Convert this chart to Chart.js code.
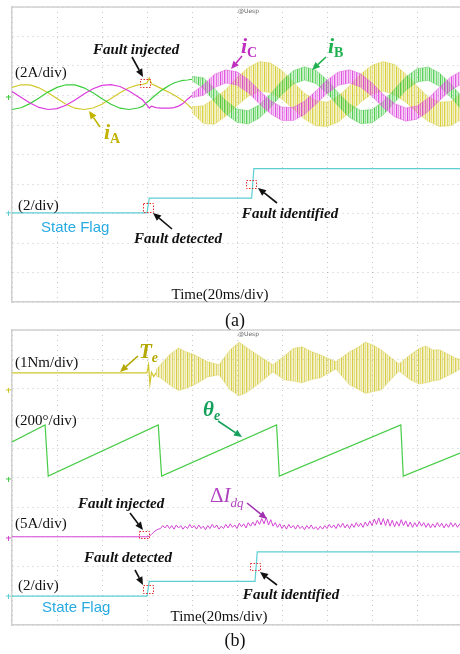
<!DOCTYPE html>
<html>
<head>
<meta charset="utf-8">
<script src="https://cdn.jsdelivr.net/npm/chart.js@4.4.1/dist/chart.umd.min.js"></script>
<style>
  html, body { margin: 0; padding: 0; background: #fff; }
  #page { position: relative; width: 460px; height: 654px; overflow: hidden; }
  #page canvas { position: absolute; left: 0; }
  .caption { position: absolute; left: 0; width: 470px; text-align: center; font: 18px "Liberation Serif", serif; line-height: 20px; color: #111; }
</style>
</head>
<body>
<div id="page">
  <canvas id="scopeA" width="472" height="310" style="top:0px"></canvas>
  <canvas id="scopeB" width="472" height="310" style="top:322px"></canvas>
  <div class="caption" style="top:310px">(a)</div>
  <div class="caption" style="top:630px">(b)</div>
</div>
<script>
// ---------- Panel (a): phase currents (A) and state flag ----------
const preTime = [0, 4, 8, 12, 16, 20, 24, 28, 32, 36, 40, 44, 48, 52, 56];
const transTime = [58, 60, 61, 62, 64, 66, 68, 70, 72, 74, 76, 78, 80];
const bandTime = [80, 85, 90, 95, 100, 105, 110, 115, 120, 125, 130, 135, 140, 145, 150, 155, 160, 165, 170, 175, 180, 185, 190, 195, 200];

const iaPre = [0.65, 0.83, 0.82, 0.62, 0.29, -0.11, -0.49, -0.76, -0.85, -0.75, -0.49, -0.11, 0.29, 0.63, 0.82];
const ibPre = [-0.85, -0.73, -0.45, -0.07, 0.33, 0.65, 0.83, 0.82, 0.62, 0.29, -0.12, -0.49, -0.76, -0.85, -0.75];
const icPre = [0.37, -0.02, -0.41, -0.71, -0.85, -0.79, -0.56, -0.20, 0.20, 0.56, 0.79, 0.84, 0.71, 0.41, 0.02];

const iaTrans = [0.85, 0.95, 1.28, 0.90, 0.75, 0.60, 0.45, 0.30, 0.14, -0.05, -0.25, -0.50, -0.80];
const ibTrans = [-0.64, -0.35, -0.25, -0.10, 0.15, 0.40, 0.60, 0.80, 0.95, 1.05, 1.12, 1.15, 1.20];
const icTrans = [-0.19, -0.55, -0.75, -0.62, -0.72, -0.75, -0.75, -0.75, -0.72, -0.62, -0.45, -0.15, 0.10];

// ripple envelopes after the fault (upper / lower edge of each band)
const iaUpper = [-0.65, -0.60, -0.10, 0.50, 1.30, 2.00, 2.40, 2.30, 1.80, 1.00, 0.25, -0.25, -0.35, 0.05, 0.75, 1.55, 2.15, 2.40, 2.20, 1.55, 0.75, 0.00, -0.35, -0.30, 0.25];
const iaLower = [-1.05, -1.80, -1.85, -1.30, -0.60, 0.05, 0.40, 0.30, -0.15, -0.80, -1.50, -1.95, -2.00, -1.70, -1.05, -0.35, 0.20, 0.40, 0.15, -0.35, -1.05, -1.65, -2.00, -1.95, -1.50];
const ibUpper = [1.40, 1.31, 0.58, -0.25, -0.82, -0.93, -0.53, 0.22, 1.09, 1.78, 2.05, 1.82, 1.16, 0.29, -0.49, -0.91, -0.85, -0.31, 0.52, 1.35, 1.92, 2.03, 1.63, 0.88, 0.01];
const ibLower = [1.10, 0.61, -0.32, -1.15, -1.72, -1.83, -1.43, -0.68, 0.19, 0.88, 1.15, 0.92, 0.26, -0.61, -1.39, -1.81, -1.75, -1.21, -0.38, 0.45, 1.02, 1.13, 0.73, -0.02, -0.89];
const icUpper = [0.25, 0.81, 1.54, 1.84, 1.71, 1.18, 0.44, -0.26, -0.69, -0.70, -0.29, 0.40, 1.14, 1.69, 1.85, 1.57, 0.95, 0.19, -0.44, -0.74, -0.61, -0.08, 0.66, 1.36, 1.79];
const icLower = [-0.05, 0.11, 0.64, 0.94, 0.81, 0.28, -0.46, -1.16, -1.59, -1.60, -1.19, -0.50, 0.24, 0.79, 0.95, 0.67, 0.05, -0.71, -1.34, -1.64, -1.51, -0.98, -0.24, 0.46, 0.89];

const flagTimeA = [0, 60, 61, 106.5, 107.5, 200];
const flagA = [0, 0, 1, 1, 3, 3];

// ---------- Panel (b): torque, angle, dq current error, state flag ----------
const teTime = [0, 60, 60.7, 61.3, 62, 63, 64];
const teLine = [0.58, 0.58, 0.85, 0.20, 0.60, 0.45, 0.58];
const teBandTime = [64, 66, 70, 74, 77, 81, 87, 92, 97, 101, 104, 109, 116, 121, 125, 129, 133, 137, 144, 150, 154, 157, 161, 164, 172, 177, 181, 184, 187, 190, 197, 200];
const teUpper = [0.68, 0.85, 1.19, 1.42, 1.30, 1.19, 0.95, 0.85, 1.36, 1.62, 1.45, 1.19, 0.85, 1.15, 1.40, 1.46, 1.30, 1.19, 0.95, 1.29, 1.45, 1.62, 1.50, 1.36, 0.88, 1.19, 1.40, 1.49, 1.35, 1.36, 1.08, 1.02];
const teLower = [0.47, 0.41, 0.17, -0.02, 0.05, 0.17, 0.44, 0.51, 0.00, -0.20, -0.10, 0.17, 0.61, 0.34, 0.30, 0.24, 0.35, 0.41, 0.71, 0.17, 0.02, -0.12, -0.05, 0.00, 0.64, 0.34, 0.20, 0.24, 0.30, 0.34, 0.61, 0.75];

const thetaTime = [0, 14.7, 16.1, 65.0, 66.5, 117.6, 118.8, 172.8, 173.9, 200];
const thetaDeg = [251, 366, 20, 366, 20, 366, 20, 366, 20, 180];

const idqTime = [0, 60, 61, 62, 63, 64, 65];
const idqLine = [0.2, 0.2, 0.3, 0.6, 1.0, 1.3, 1.5];
// ripple after the fault, one sample per ms from 66 ms to 200 ms
const idqRipple = [
  1.6, 2.1, 1.7, 2.2, 1.6, 2.1, 1.5, 2.2, 1.7, 2.1,
  1.5, 2.0, 1.6, 2.3, 1.7, 2.1, 1.5, 2.2, 1.6, 2.0,
  1.4, 2.1, 1.6, 2.3, 1.7, 2.2, 1.5, 2.0, 1.6, 2.3,
  1.7, 2.4, 1.8, 2.2, 1.6, 2.5, 1.9, 2.4, 1.7, 2.6,
  2.0, 2.7, 2.1, 3.0, 2.3, 3.3, 2.4, 3.5, 2.2, 3.1,
  2.0, 2.6, 1.8, 2.4, 1.6, 2.2, 1.5, 2.3, 1.7, 2.1,
  1.5, 2.2, 1.6, 2.0, 1.4, 2.1, 1.6, 2.2, 1.5, 1.9,
  1.4, 2.0, 1.5, 2.1, 1.6, 2.3, 1.7, 2.2, 1.6, 2.4,
  1.8, 2.5, 1.7, 2.3, 1.6, 2.4, 1.8, 2.6, 1.9, 2.5,
  1.8, 2.7, 2.0, 2.9, 2.1, 3.2, 2.3, 3.4, 2.2, 3.3,
  2.1, 3.2, 2.0, 3.0, 1.9, 2.8, 2.0, 3.1, 2.1, 2.9,
  1.9, 2.7, 1.8, 2.6, 1.9, 2.8, 2.0, 2.6, 1.8, 2.5,
  1.7, 2.4, 1.8, 2.6, 1.9, 2.5, 1.7, 2.4, 1.8, 2.6,
  1.9, 2.5, 1.8, 2.4, 1.9
];
const idqRippleTime = idqRipple.map((v, i) => 66 + i);

const flagTimeB = [0, 60, 61, 108, 109, 200];
const flagB = [0, 0, 1, 1, 3, 3];

// ---------- scope channel settings (ground level in divisions, units per division) ----------
const CH = {
  current: { level: 6.95, perDiv: 2 },
  flagA:   { level: 3.02, perDiv: 2 },
  te:      { level: 7.97, perDiv: 1 },
  theta:   { level: 4.95, perDiv: 200 },
  idq:     { level: 2.95, perDiv: 5 },
  flagB:   { level: 0.98, perDiv: 2 }
};

const COLORS = {
  ia: '#d3c92c', iaRgb: [212, 202, 40],
  ib: '#3ccd3c', ibRgb: [60, 200, 60],
  ic: '#dd3cdd', icRgb: [220, 60, 220],
  flag: '#5ccfd3',
  te: '#d0c62a', teRgb: [210, 200, 50],
  theta: '#48cc48',
  idq: '#d444d4'
};

// vertical-stroke texture imitating the dense switching ripple of the scope traces
function strokeTexture(canvasId, rgb) {
  const tile = document.createElement('canvas');
  const alphas = [0.9, 0.3, 0.6, 0.2, 0.85, 0.4, 0.25, 0.7, 0.3, 0.5, 0.2];
  tile.width = alphas.length; tile.height = 1;
  const t = tile.getContext('2d');
  alphas.forEach((a, i) => {
    t.fillStyle = `rgba(${rgb[0]}, ${rgb[1]}, ${rgb[2]}, ${a})`;
    t.fillRect(i, 0, 1, 1);
  });
  return document.getElementById(canvasId).getContext('2d').createPattern(tile, 'repeat');
}

function toPoints(times, values, ch) {
  return times.map((t, i) => ({ x: t, y: ch.level + values[i] / ch.perDiv }));
}

function trace(points, color, order, width) {
  return { data: points, borderColor: color, borderWidth: width || 1.2, fill: false, order };
}

function band(upper, lower, rgb, fillStyle, order) {
  const edge = `rgba(${rgb[0]}, ${rgb[1]}, ${rgb[2]}, 0.45)`;
  return [
    { data: upper, borderColor: edge, borderWidth: 0.8, fill: false, order },
    { data: lower, borderColor: edge, borderWidth: 0.8, fill: '-1', backgroundColor: fillStyle, order }
  ];
}

// ---------- decorations: frame, ground markers, labels, arrows, marker boxes ----------
const SERIF = '"Liberation Serif", "Times New Roman", serif';
const SANS = '"Liberation Sans", Arial, sans-serif';

function txt(x, y, s, font, color, align) {
  return { x, y, align: align || 'left', parts: [{ s, font, color: color || '#111' }] };
}

const scopeDecor = {
  id: 'scopeDecor',
  afterDraw(chart, args, opts) {
    const ctx = chart.ctx;
    const area = chart.chartArea;
    const top = opts.top;
    ctx.save();

    ctx.strokeStyle = '#d0d0d0';
    ctx.lineWidth = 1.5;
    ctx.beginPath();
    ctx.moveTo(area.left, area.top);
    ctx.lineTo(area.right, area.top);
    ctx.stroke();

    // ground markers on the left edge
    opts.markers.forEach(m => {
      const y = chart.scales.y.getPixelForValue(m.level);
      ctx.strokeStyle = m.color;
      ctx.lineWidth = 1;
      ctx.beginPath();
      ctx.moveTo(6, y); ctx.lineTo(11, y);
      ctx.moveTo(8.5, y - 2); ctx.lineTo(8.5, y + 3);
      ctx.stroke();
    });

    // trigger header
    ctx.fillStyle = '#666';
    ctx.font = '6px "DejaVu Sans"';
    ctx.textBaseline = 'middle';
    ctx.fillText('@Uesp', opts.header.x, opts.header.y - top);

    // red dashed boxes
    ctx.strokeStyle = '#e23030';
    ctx.lineWidth = 1;
    ctx.setLineDash([1.5, 1.5]);
    opts.boxes.forEach(b => ctx.strokeRect(b[0] + 0.5, b[1] - top + 0.5, b[2], b[3]));
    ctx.setLineDash([]);

    // arrows
    opts.arrows.forEach(a => {
      const [x1, y1, x2, y2] = [a.from[0], a.from[1] - top, a.to[0], a.to[1] - top];
      const ang = Math.atan2(y2 - y1, x2 - x1);
      const hl = 8, hw = 3.5;
      const bx = x2 - hl * Math.cos(ang), by = y2 - hl * Math.sin(ang);
      ctx.strokeStyle = a.color;
      ctx.fillStyle = a.color;
      ctx.lineWidth = 1.6;
      ctx.beginPath(); ctx.moveTo(x1, y1); ctx.lineTo(bx, by); ctx.stroke();
      ctx.beginPath();
      ctx.moveTo(x2, y2);
      ctx.lineTo(bx - hw * Math.sin(ang), by + hw * Math.cos(ang));
      ctx.lineTo(bx + hw * Math.sin(ang), by - hw * Math.cos(ang));
      ctx.closePath();
      ctx.fill();
    });

    // text labels (parts allow subscripts)
    ctx.textBaseline = 'alphabetic';
    opts.texts.forEach(t => {
      let w = 0;
      t.parts.forEach(p => { ctx.font = p.font; w += ctx.measureText(p.s).width; });
      let x = t.align === 'center' ? t.x - w / 2 : t.x;
      t.parts.forEach(p => {
        ctx.font = p.font;
        ctx.fillStyle = p.color || '#111';
        ctx.fillText(p.s, x, t.y - top + (p.dy || 0));
        x += ctx.measureText(p.s).width;
      });
    });
    ctx.restore();
  }
};

function scopeOptions(pad, decor) {
  const axis = (max, step) => ({
    type: 'linear', min: 0, max,
    ticks: { display: false, stepSize: step },
    grid: { color: 'rgba(0, 0, 0, 0.22)', lineWidth: 1, drawTicks: false },
    border: { color: '#d0d0d0', width: 1.5, dash: [1, 4] }
  });
  return {
    responsive: false,
    animation: false,
    events: [],
    layout: { padding: { left: 12, right: 10, top: pad[0], bottom: pad[1] } },
    elements: { point: { radius: 0 }, line: { tension: 0 } },
    plugins: { legend: { display: false }, tooltip: { enabled: false }, scopeDecor: decor },
    scales: { x: axis(200, 20), y: axis(10, 1) }
  };
}

// ---------- Panel (a) ----------
const BOLDIT = 'bold italic 15px ' + SERIF;
const decorA = {
  top: 0,
  header: { x: 238, y: 11 },
  markers: [
    { level: CH.current.level, color: COLORS.ib },
    { level: CH.flagA.level, color: COLORS.flag }
  ],
  boxes: [[140, 79, 10, 8], [143, 203, 10, 9], [246, 180, 10, 8]],
  arrows: [
    { from: [132, 57], to: [143, 77], color: '#111' },
    { from: [100, 127], to: [89, 111], color: '#c2b400' },
    { from: [242, 56], to: [231, 69], color: '#c030c0' },
    { from: [326, 57], to: [312, 70], color: '#20b050' },
    { from: [172, 229], to: [153, 213], color: '#111' },
    { from: [277, 203], to: [258, 188], color: '#111' }
  ],
  texts: [
    txt(15, 77, '(2A/div)', '15px ' + SERIF),
    txt(136, 54, 'Fault injected', BOLDIT, '#111', 'center'),
    { x: 104, y: 139, parts: [
      { s: 'i', font: 'bold italic 22px ' + SERIF, color: '#c2b400' },
      { s: 'A', font: 'bold 14px ' + SERIF, color: '#c2b400', dy: 4 }] },
    { x: 241, y: 53, parts: [
      { s: 'i', font: 'bold italic 22px ' + SERIF, color: '#c030c0' },
      { s: 'C', font: 'bold 14px ' + SERIF, color: '#c030c0', dy: 4 }] },
    { x: 328, y: 53, parts: [
      { s: 'i', font: 'bold italic 22px ' + SERIF, color: '#20b050' },
      { s: 'B', font: 'bold 14px ' + SERIF, color: '#20b050', dy: 4 }] },
    txt(18, 210, '(2/div)', '15px ' + SERIF),
    txt(41, 232, 'State Flag', '15px ' + SANS, '#29abe2'),
    txt(178, 243, 'Fault detected', BOLDIT, '#111', 'center'),
    txt(290, 218, 'Fault identified', BOLDIT, '#111', 'center'),
    txt(220, 299, 'Time(20ms/div)', '15px ' + SERIF, '#111', 'center')
  ]
};

new Chart(document.getElementById('scopeA'), {
  type: 'line',
  data: {
    datasets: [
      trace(toPoints(flagTimeA, flagA, CH.flagA), COLORS.flag, 1),
      trace(toPoints(preTime.concat(transTime), icPre.concat(icTrans), CH.current), COLORS.ic, 2),
      trace(toPoints(preTime.concat(transTime), ibPre.concat(ibTrans), CH.current), COLORS.ib, 3),
      trace(toPoints(preTime.concat(transTime), iaPre.concat(iaTrans), CH.current), COLORS.ia, 4),
      ...band(toPoints(bandTime, icUpper, CH.current), toPoints(bandTime, icLower, CH.current), COLORS.icRgb, strokeTexture('scopeA', COLORS.icRgb), 5),
      ...band(toPoints(bandTime, ibUpper, CH.current), toPoints(bandTime, ibLower, CH.current), COLORS.ibRgb, strokeTexture('scopeA', COLORS.ibRgb), 6),
      ...band(toPoints(bandTime, iaUpper, CH.current), toPoints(bandTime, iaLower, CH.current), COLORS.iaRgb, strokeTexture('scopeA', COLORS.iaRgb), 7)
    ]
  },
  options: scopeOptions([7, 8], decorA),
  plugins: [scopeDecor]
});

// ---------- Panel (b) ----------
const decorB = {
  top: 322,
  header: { x: 238, y: 334 },
  markers: [
    { level: CH.te.level, color: COLORS.te },
    { level: CH.theta.level, color: COLORS.theta },
    { level: CH.idq.level, color: COLORS.idq },
    { level: CH.flagB.level, color: COLORS.flag }
  ],
  boxes: [[139, 531, 10, 7], [143, 585, 10, 8], [250, 563, 10, 7]],
  arrows: [
    { from: [138, 356], to: [120, 372], color: '#b5a800' },
    { from: [218, 421], to: [242, 437], color: '#12a05a' },
    { from: [130, 513], to: [143, 530], color: '#111' },
    { from: [247, 503], to: [267, 519], color: '#a030b0' },
    { from: [135, 570], to: [143, 585], color: '#111' },
    { from: [277, 585], to: [260, 572], color: '#111' }
  ],
  texts: [
    txt(15, 367, '(1Nm/div)', '15px ' + SERIF),
    { x: 139, y: 358, parts: [
      { s: 'T', font: 'bold italic 21px ' + SERIF, color: '#b5a800' },
      { s: 'e', font: 'bold italic 14px ' + SERIF, color: '#b5a800', dy: 4 }] },
    txt(15, 425, '(200°/div)', '15px ' + SERIF),
    { x: 203, y: 416, parts: [
      { s: 'θ', font: 'bold italic 21px ' + SERIF, color: '#12a05a' },
      { s: 'e', font: 'bold italic 14px ' + SERIF, color: '#12a05a', dy: 4 }] },
    txt(121, 508, 'Fault injected', BOLDIT, '#111', 'center'),
    { x: 210, y: 502, parts: [
      { s: 'Δ', font: '21px ' + SERIF, color: '#b040c0' },
      { s: 'I', font: 'italic 21px ' + SERIF, color: '#b040c0' },
      { s: 'dq', font: 'italic 13px ' + SERIF, color: '#b040c0', dy: 5 }] },
    txt(15, 528, '(5A/div)', '15px ' + SERIF),
    txt(128, 562, 'Fault detected', BOLDIT, '#111', 'center'),
    txt(291, 599, 'Fault identified', BOLDIT, '#111', 'center'),
    txt(18, 590, '(2/div)', '15px ' + SERIF),
    txt(42, 612, 'State Flag', '15px ' + SANS, '#29abe2'),
    txt(219, 621, 'Time(20ms/div)', '15px ' + SERIF, '#111', 'center')
  ]
};

new Chart(document.getElementById('scopeB'), {
  type: 'line',
  data: {
    datasets: [
      trace(toPoints(flagTimeB, flagB, CH.flagB), COLORS.flag, 1),
      trace(toPoints(idqTime.concat(idqRippleTime), idqLine.concat(idqRipple), CH.idq), COLORS.idq, 2, 1),
      trace(toPoints(thetaTime, thetaDeg, CH.theta), COLORS.theta, 3),
      trace(toPoints(teTime, teLine, CH.te), COLORS.te, 4),
      ...band(toPoints(teBandTime, teUpper, CH.te), toPoints(teBandTime, teLower, CH.te), COLORS.teRgb, strokeTexture('scopeB', COLORS.teRgb), 5)
    ]
  },
  options: scopeOptions([8, 7], decorB),
  plugins: [scopeDecor]
});
</script>
</body>
</html>
